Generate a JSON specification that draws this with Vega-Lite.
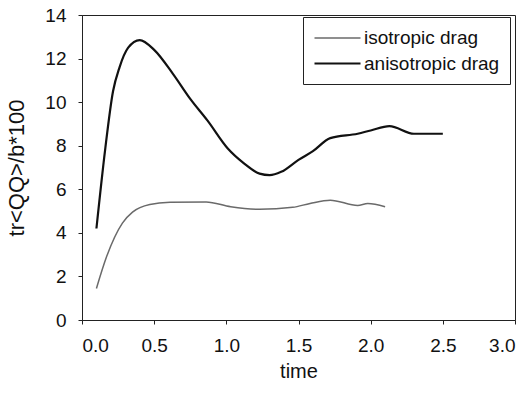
{
  "$schema": "https://vega.github.io/schema/vega-lite/v6.json",
  "autosize": "none",
  "width": 433,
  "height": 305,
  "padding": {"left": 82, "top": 15, "right": 15, "bottom": 78},
  "background": "white",
  "config": {
    "font": "Liberation Sans",
    "view": {"stroke": "#222", "strokeWidth": 1},
    "axis": {"grid": false, "domainColor": "#222", "tickColor": "#222", "labelColor": "#111", "titleColor": "#111", "labelFontSize": 19, "titleFontSize": 20, "titleFontWeight": "normal", "tickSize": 4}
  },
  "data": {"values": [
    {"t": 0.1, "v": 4.2, "s": "anisotropic drag"},
    {"t": 0.16, "v": 7.8, "s": "anisotropic drag"},
    {"t": 0.215, "v": 10.5, "s": "anisotropic drag"},
    {"t": 0.26, "v": 11.6, "s": "anisotropic drag"},
    {"t": 0.32, "v": 12.5, "s": "anisotropic drag"},
    {"t": 0.4, "v": 12.85, "s": "anisotropic drag"},
    {"t": 0.5, "v": 12.4, "s": "anisotropic drag"},
    {"t": 0.63, "v": 11.3, "s": "anisotropic drag"},
    {"t": 0.75, "v": 10.15, "s": "anisotropic drag"},
    {"t": 0.87, "v": 9.15, "s": "anisotropic drag"},
    {"t": 1.01, "v": 7.87, "s": "anisotropic drag"},
    {"t": 1.12, "v": 7.2, "s": "anisotropic drag"},
    {"t": 1.23, "v": 6.72, "s": "anisotropic drag"},
    {"t": 1.3, "v": 6.65, "s": "anisotropic drag"},
    {"t": 1.38, "v": 6.8, "s": "anisotropic drag"},
    {"t": 1.5, "v": 7.35, "s": "anisotropic drag"},
    {"t": 1.6, "v": 7.75, "s": "anisotropic drag"},
    {"t": 1.72, "v": 8.35, "s": "anisotropic drag"},
    {"t": 1.91, "v": 8.55, "s": "anisotropic drag"},
    {"t": 2.0, "v": 8.7, "s": "anisotropic drag"},
    {"t": 2.13, "v": 8.9, "s": "anisotropic drag"},
    {"t": 2.3, "v": 8.55, "s": "anisotropic drag"},
    {"t": 2.5, "v": 8.55, "s": "anisotropic drag"},
    {"t": 0.1, "v": 1.45, "s": "isotropic drag"},
    {"t": 0.17, "v": 2.9, "s": "isotropic drag"},
    {"t": 0.28, "v": 4.45, "s": "isotropic drag"},
    {"t": 0.35, "v": 4.95, "s": "isotropic drag"},
    {"t": 0.47, "v": 5.3, "s": "isotropic drag"},
    {"t": 0.61, "v": 5.4, "s": "isotropic drag"},
    {"t": 0.86, "v": 5.42, "s": "isotropic drag"},
    {"t": 1.03, "v": 5.2, "s": "isotropic drag"},
    {"t": 1.23, "v": 5.08, "s": "isotropic drag"},
    {"t": 1.46, "v": 5.17, "s": "isotropic drag"},
    {"t": 1.58, "v": 5.35, "s": "isotropic drag"},
    {"t": 1.72, "v": 5.5, "s": "isotropic drag"},
    {"t": 1.91, "v": 5.26, "s": "isotropic drag"},
    {"t": 1.98, "v": 5.35, "s": "isotropic drag"},
    {"t": 2.1, "v": 5.2, "s": "isotropic drag"}
  ]},
  "mark": {"type": "line", "interpolate": "monotone"},
  "encoding": {
    "x": {"field": "t", "type": "quantitative", "title": "time", "scale": {"domain": [0, 3], "nice": false}, "axis": {"values": [0, 0.5, 1, 1.5, 2, 2.5, 3], "format": ".1f", "labelPadding": 12, "titlePadding": 6}},
    "y": {"field": "v", "type": "quantitative", "title": "tr<QQ>/b*100", "scale": {"domain": [0, 14], "nice": false}, "axis": {"values": [0, 2, 4, 6, 8, 10, 12, 14], "labelPadding": 12, "titlePadding": 16, "titleFontSize": 22}},
    "color": {"field": "s", "type": "nominal", "scale": {"domain": ["isotropic drag", "anisotropic drag"], "range": ["#6a6a6a", "#111111"]}, "legend": {"title": null, "orient": "none", "legendX": 221, "legendY": 2, "strokeColor": "#222", "padding": 10, "labelFontSize": 19, "labelColor": "#111", "symbolType": "M-2.3,0H2.3", "symbolSize": 400, "symbolOffset": 13, "symbolStrokeWidth": 2, "rowPadding": 4, "labelOffset": 15}},
    "strokeWidth": {"field": "s", "type": "nominal", "scale": {"domain": ["isotropic drag", "anisotropic drag"], "range": [1.5, 2.2]}, "legend": null}
  }
}
